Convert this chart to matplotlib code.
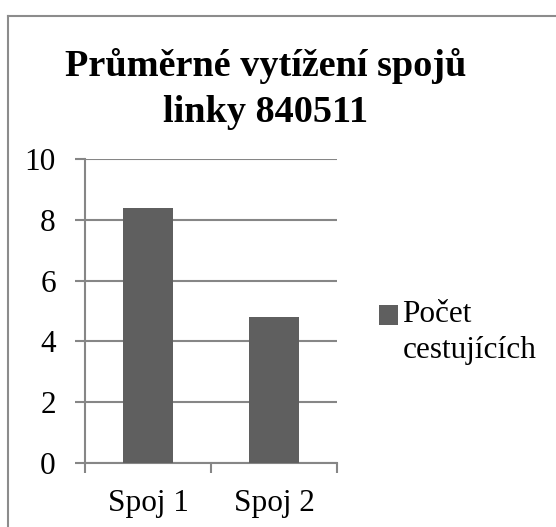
import numpy as np
import matplotlib.pyplot as plt
from matplotlib.lines import Line2D
from matplotlib.patches import Rectangle
from matplotlib.legend_handler import HandlerPatch

# data
categories = ['Spoj 1', 'Spoj 2']
values = [8.4, 4.8]
series_name = 'Počet\ncestujících'
title = 'Průměrné vytížení spojů\nlinky 840511'
y_ticks = [0, 2, 4, 6, 8, 10]

plt.rcParams['font.family'] = ['Liberation Serif', 'DejaVu Serif']

W, H = 556, 527
fig = plt.figure(figsize=(W / 100, H / 100), dpi=100)

grid_col = '#868686'
bar_col = '#5f5f5f'

# axes placed in pixel terms
x0, x1, y_top, y_bot = 85, 337, 159, 463
ax = fig.add_axes([x0 / W, 1 - y_bot / H, (x1 - x0) / W, (y_bot - y_top) / H])

x = np.arange(len(categories))
bars = ax.bar(x, values, width=0.4, color=bar_col, zorder=3)

ax.set_xlim(-0.5, len(categories) - 0.5)
ax.set_ylim(0, 10)
ax.set_yticks(y_ticks)
ax.yaxis.grid(True, color=grid_col, linewidth=1.5, zorder=0)

# category boundary ticks, labels in the middle
ax.set_xticks(np.arange(len(categories) + 1) - 0.5)
ax.set_xticklabels([])
ax.set_xticks(x, minor=True)
ax.set_xticklabels(categories, minor=True)
ax.tick_params(axis='x', which='major', length=7, width=1.5, color=grid_col)
ax.tick_params(axis='x', which='minor', length=0, pad=19, labelsize=22.5)
ax.tick_params(axis='y', length=7, width=1.5, color=grid_col, pad=14, labelsize=22.5)

for s in ['top', 'right']:
    ax.spines[s].set_visible(False)
for s in ['left', 'bottom']:
    ax.spines[s].set_color(grid_col)
    ax.spines[s].set_linewidth(1.5)

fig.text(266 / W, 1 - 122 / H, title, ha='center', va='baseline',
         fontsize=27.5, fontweight='bold', linespacing=1.4)


# legend square sits next to the first line of the label
def top_square(legend, orig_handle, xdescent, ydescent, width, height, fontsize):
    return Rectangle((-xdescent, -ydescent + 0.55 * fontsize), width, height)


ax.legend(handles=[bars.patches[0]], labels=[series_name],
          loc='upper left', bbox_to_anchor=(379 / W, 1 - 300 / H),
          bbox_transform=fig.transFigure, frameon=False, fontsize=22.5,
          handlelength=0.6, handleheight=0.6, handletextpad=0.15,
          borderpad=0, borderaxespad=0, labelspacing=0,
          handler_map={Rectangle: HandlerPatch(patch_func=top_square)})
for t in ax.get_legend().get_texts():
    t.set_linespacing(1.3)

# frame lines at top and left (chart border cropped on the other sides)
fig.add_artist(Line2D([8 / W, 8 / W], [0, 1 - 16 / H], transform=fig.transFigure,
                      color='#8c8c8c', linewidth=1.5))
fig.add_artist(Line2D([8 / W, 1], [1 - 16 / H, 1 - 16 / H], transform=fig.transFigure,
                      color='#8c8c8c', linewidth=1.5))

fig.savefig('out.png', dpi=100)
